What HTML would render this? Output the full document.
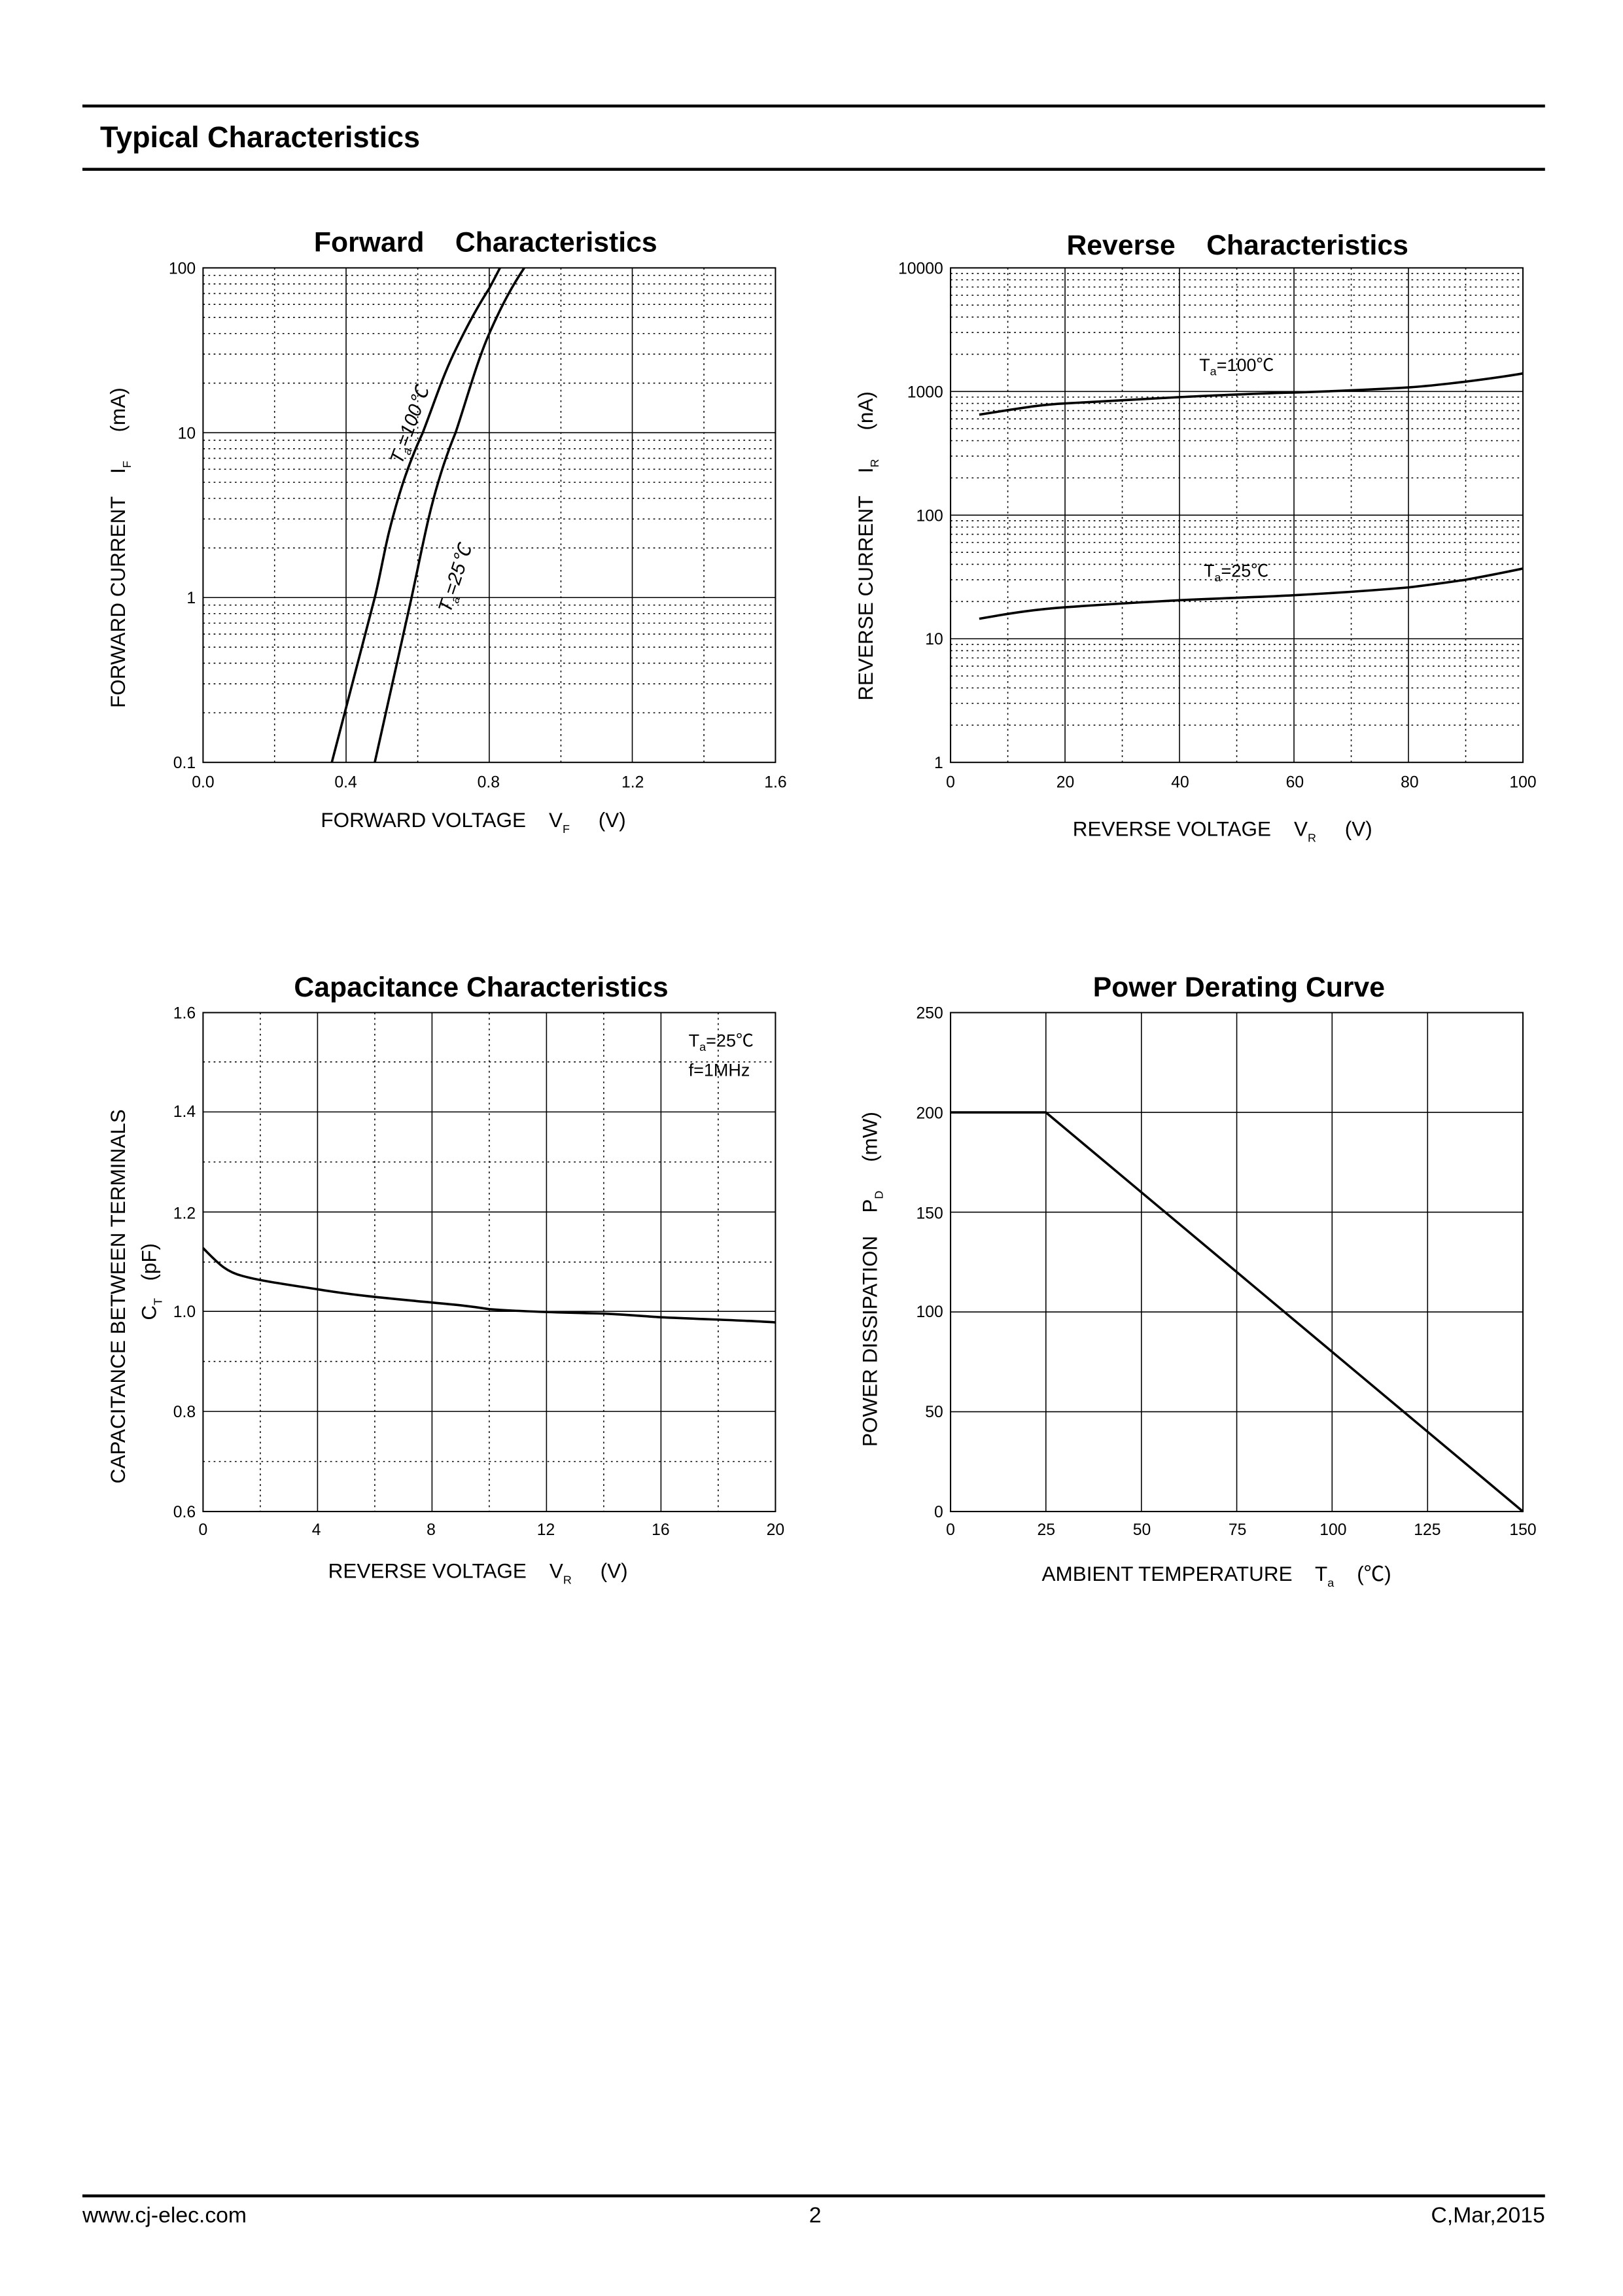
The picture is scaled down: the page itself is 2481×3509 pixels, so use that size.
<!DOCTYPE html>
<html><head><meta charset="utf-8"><style>
html,body{margin:0;padding:0;background:#fff;}
svg{display:block;}
text{font-family:"Liberation Sans","Noto Sans CJK SC",sans-serif;fill:#000;}
.t{font-size:11px;}
.ax{font-size:14px;}
.ti{font-size:19px;font-weight:bold;}
.g{stroke:#000;stroke-width:0.7;}
.d{stroke:#000;stroke-width:0.7;stroke-dasharray:1.2 2.4;}
.c{fill:none;stroke:#000;stroke-width:1.6;}
</style></head><body>
<svg width="2481" height="3509" viewBox="0 0 1103 1560" xmlns="http://www.w3.org/2000/svg">
<defs>
<g id="fdec">
<path class="d" d="M0,-33.7H389M0,-53.4H389M0,-67.4H389M0,-78.3H389M0,-87.2H389M0,-94.6H389M0,-101.1H389M0,-106.9H389"/>
</g>
<g id="rdec">
<path class="d" d="M0,-25.3H389M0,-40.1H389M0,-50.6H389M0,-58.7H389M0,-65.4H389M0,-71H389M0,-75.9H389M0,-80.2H389"/>
</g>
</defs>
<rect width="1103" height="1560" fill="#fff"/>
<!-- header -->
<line x1="56" y1="72" x2="1050" y2="72" stroke="#000" stroke-width="2"/>
<text x="68" y="100" style="font-size:20px;font-weight:bold">Typical Characteristics</text>
<line x1="56" y1="115" x2="1050" y2="115" stroke="#000" stroke-width="2"/>

<!-- Forward -->
<text class="ti" x="330" y="171" text-anchor="middle" xml:space="preserve">Forward    Characteristics</text>
<use href="#fdec" x="138" y="518"/><use href="#fdec" x="138" y="406"/><use href="#fdec" x="138" y="294"/>
<path class="d" d="M186.6,182V518M283.9,182V518M381.2,182V518M478.4,182V518"/>
<path class="g" d="M235.2,182V518M332.5,182V518M429.7,182V518M138,294H527M138,406H527"/>
<rect x="138" y="182" width="389" height="336" fill="none" stroke="#000" stroke-width="0.9"/>
<path class="c" d="M225.5,518 L254.7,406 C258,393 261,375 264.4,361.4 C272,331 279,312 287.3,294 C295,274 300,258 308.2,240.6 C318,220 326,206 332.5,196 L339.8,182"/>
<path class="c" d="M254.7,518 L279.7,406 C284,386 288,366 291.2,352.5 C297,328 303,310 309.6,294 C317,272 324,246 332.5,226.6 C342,205 349,193 356.3,182"/>
<text class="t" transform="translate(273,316) rotate(-70)" style="font-size:13px;font-style:italic">T<tspan dy="3" style="font-size:8px">a</tspan><tspan dy="-3">=100℃</tspan></text>
<text class="t" transform="translate(306,417) rotate(-72)" style="font-size:13px;font-style:italic">T<tspan dy="3" style="font-size:8px">a</tspan><tspan dy="-3">=25℃</tspan></text>
<g class="t" text-anchor="end">
<text x="133" y="186">100</text><text x="133" y="298">10</text><text x="133" y="410">1</text><text x="133" y="522">0.1</text></g>
<g class="t" text-anchor="middle">
<text x="138" y="535">0.0</text><text x="235" y="535">0.4</text><text x="332" y="535">0.8</text><text x="430" y="535">1.2</text><text x="527" y="535">1.6</text></g>
<text class="ax" x="218" y="562" xml:space="preserve">FORWARD VOLTAGE    V<tspan dy="4" style="font-size:8px">F</tspan><tspan dy="-4">     (V)</tspan></text>
<text class="ax" transform="translate(85,481) rotate(-90)" xml:space="preserve">FORWARD CURRENT    I<tspan dy="4" style="font-size:8px">F</tspan><tspan dy="-4">     (mA)</tspan></text>

<!-- Reverse -->
<text class="ti" x="841" y="173" text-anchor="middle" xml:space="preserve">Reverse    Characteristics</text>
<use href="#rdec" x="646" y="518"/><use href="#rdec" x="646" y="434"/><use href="#rdec" x="646" y="350"/><use href="#rdec" x="646" y="266"/>
<path class="d" d="M684.9,182V518M762.7,182V518M840.5,182V518M918.3,182V518M996.1,182V518"/>
<path class="g" d="M723.8,182V518M801.6,182V518M879.4,182V518M957.2,182V518M646,266H1035M646,350H1035M646,434H1035"/>
<rect x="646" y="182" width="389" height="336" fill="none" stroke="#000" stroke-width="0.9"/>
<path class="c" d="M665.5,281.7 C690,278 705,275 723.8,274.1 C760,272 780,271 801.6,269.8 C840,268 860,267 879.4,266.7 C915,265.5 935,264.5 957.2,263.2 C975,262 985,260.5 996.1,259.3 C1010,257.5 1022,256 1035,253.7"/>
<path class="c" d="M665.5,420.4 C690,416 705,414 723.8,412.6 C760,410 780,409 801.6,407.8 C840,406 860,405.5 879.4,404.4 C915,402.5 935,401 957.2,399.1 C975,397 985,395.5 996.1,393.9 C1012,391 1022,389 1035,386.3"/>
<text class="t" x="815" y="252" style="font-size:12px">T<tspan dy="3" style="font-size:8px">a</tspan><tspan dy="-3">=100℃</tspan></text>
<text class="t" x="818" y="392" style="font-size:12px">T<tspan dy="3" style="font-size:8px">a</tspan><tspan dy="-3">=25℃</tspan></text>
<g class="t" text-anchor="end">
<text x="641" y="186">10000</text><text x="641" y="270">1000</text><text x="641" y="354">100</text><text x="641" y="438">10</text><text x="641" y="522">1</text></g>
<g class="t" text-anchor="middle">
<text x="646" y="535">0</text><text x="724" y="535">20</text><text x="802" y="535">40</text><text x="880" y="535">60</text><text x="958" y="535">80</text><text x="1035" y="535">100</text></g>
<text class="ax" x="729" y="568" xml:space="preserve">REVERSE VOLTAGE    V<tspan dy="4" style="font-size:8px">R</tspan><tspan dy="-4">     (V)</tspan></text>
<text class="ax" transform="translate(593,476) rotate(-90)" xml:space="preserve">REVERSE CURRENT    I<tspan dy="4" style="font-size:8px">R</tspan><tspan dy="-4">     (nA)</tspan></text>

<!-- Capacitance -->
<text class="ti" x="327" y="677" text-anchor="middle">Capacitance Characteristics</text>
<path class="d" d="M176.9,688V1027M254.7,688V1027M332.5,688V1027M410.3,688V1027M488.1,688V1027M138,721.5H527M138,789.5H527M138,857.5H527M138,925H527M138,993H527"/>
<path class="g" d="M215.8,688V1027M293.6,688V1027M371.4,688V1027M449.2,688V1027M138,755.5H527M138,823.5H527M138,891H527M138,959H527"/>
<rect x="138" y="688" width="389" height="339" fill="none" stroke="#000" stroke-width="0.9"/>
<path class="c" d="M138,848 C148,858 153,864 165,867 C176,870 190,872 215.8,876 C240,880 262,882 293.6,885 C310,886.5 320,887.5 332.5,889.5 C360,891.5 390,892 410.3,892.5 C430,893.5 440,894.5 449.2,895 C480,896.5 505,897 527,898.5"/>
<text class="t" x="468" y="711" style="font-size:12px">T<tspan dy="3" style="font-size:8px">a</tspan><tspan dy="-3">=25℃</tspan></text>
<text class="t" x="468" y="731" style="font-size:12px">f=1MHz</text>
<g class="t" text-anchor="end">
<text x="133" y="692">1.6</text><text x="133" y="759">1.4</text><text x="133" y="828">1.2</text><text x="133" y="895">1.0</text><text x="133" y="963">0.8</text><text x="133" y="1031">0.6</text></g>
<g class="t" text-anchor="middle">
<text x="138" y="1043">0</text><text x="215" y="1043">4</text><text x="293" y="1043">8</text><text x="371" y="1043">12</text><text x="449" y="1043">16</text><text x="527" y="1043">20</text></g>
<text class="ax" x="223" y="1072" xml:space="preserve">REVERSE VOLTAGE    V<tspan dy="4" style="font-size:8px">R</tspan><tspan dy="-4">     (V)</tspan></text>
<text class="ax" transform="translate(85,1008) rotate(-90)">CAPACITANCE BETWEEN TERMINALS</text>
<text class="ax" transform="translate(106,897) rotate(-90)" xml:space="preserve">C<tspan dy="4" style="font-size:8px">T</tspan><tspan dy="-4">   (pF)</tspan></text>

<!-- Power -->
<text class="ti" x="842" y="677" text-anchor="middle">Power Derating Curve</text>
<path class="g" d="M710.8,688V1027M775.7,688V1027M840.5,688V1027M905.3,688V1027M970.2,688V1027M646,755.8H1035M646,823.6H1035M646,891.4H1035M646,959.2H1035"/>
<rect x="646" y="688" width="389" height="339" fill="none" stroke="#000" stroke-width="0.9"/>
<path class="c" d="M646,755.8 L710.8,755.8 L1035,1027"/>
<g class="t" text-anchor="end">
<text x="641" y="692">250</text><text x="641" y="760">200</text><text x="641" y="828">150</text><text x="641" y="895">100</text><text x="641" y="963">50</text><text x="641" y="1031">0</text></g>
<g class="t" text-anchor="middle">
<text x="646" y="1043">0</text><text x="711" y="1043">25</text><text x="776" y="1043">50</text><text x="841" y="1043">75</text><text x="906" y="1043">100</text><text x="970" y="1043">125</text><text x="1035" y="1043">150</text></g>
<text class="ax" x="708" y="1074" xml:space="preserve">AMBIENT TEMPERATURE    T<tspan dy="4" style="font-size:8px">a</tspan><tspan dy="-4">    (℃)</tspan></text>
<text class="ax" transform="translate(596,983) rotate(-90)" xml:space="preserve">POWER DISSIPATION    P<tspan dy="4" style="font-size:8px">D</tspan><tspan dy="-4">     (mW)</tspan></text>

<!-- footer -->
<line x1="56" y1="1492" x2="1050" y2="1492" stroke="#000" stroke-width="2"/>
<text x="56" y="1510" style="font-size:15px">www.cj-elec.com</text>
<text x="554" y="1510" style="font-size:15px" text-anchor="middle">2</text>
<text x="1050" y="1510" style="font-size:15px" text-anchor="end">C,Mar,2015</text>
</svg>
</body></html>
